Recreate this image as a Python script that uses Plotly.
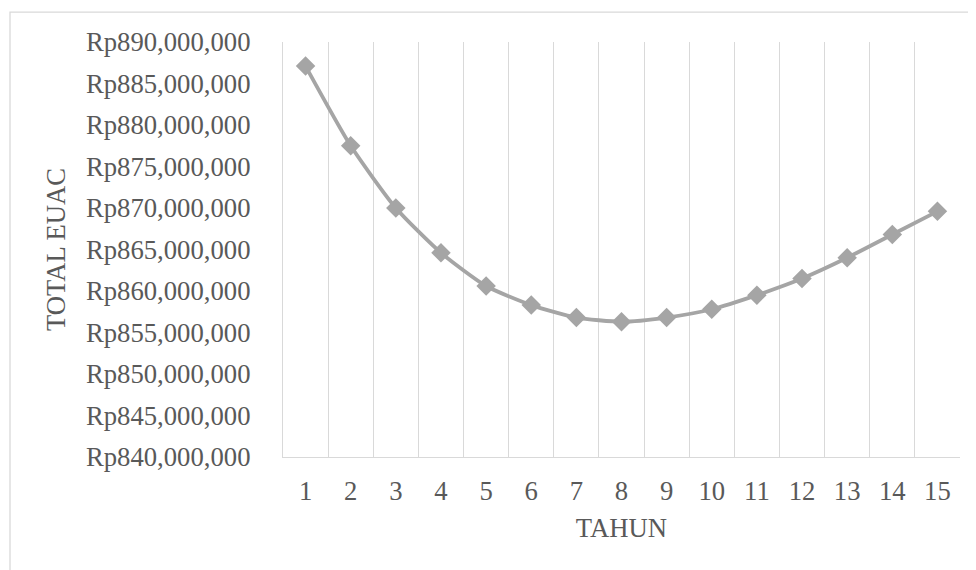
import plotly.graph_objects as go

tahun = [str(i) for i in range(1, 16)]
total_euac = [887100000, 877500000, 870000000, 864600000, 860600000,
              858300000, 856800000, 856300000, 856800000, 857800000,
              859500000, 861500000, 864000000, 866800000, 869600000]
y_ticks = list(range(840000000, 890000001, 5000000))
y_tick_text = ["Rp{:,}".format(v) for v in y_ticks]

FONT = "Liberation Serif, Times New Roman, serif"
TXT = "#595959"
GRID = "#D9D9D9"
FS = 26.7

fig = go.Figure()
fig.add_trace(go.Scatter(
    x=tahun, y=total_euac, mode="lines+markers",
    line=dict(color="#A5A5A5", width=3.8, shape="spline", smoothing=0.6),
    marker=dict(symbol="diamond", size=15, color="#A5A5A5"),
    showlegend=False,
))

# page has an 8px body offset
W, H = 976, 570
L, T = 275, 34
R = W - 952
B = H - 449.5
pw = W - L - R
ph = H - T - B

fig.update_layout(
    width=W, height=H,
    margin=dict(l=L, r=R, t=T, b=B, pad=0),
    paper_bgcolor="white", plot_bgcolor="white",
    font=dict(family=FONT, size=FS, color=TXT),
    xaxis=dict(
        type="category", tickson="boundaries",
        range=[-0.5, 14.5],
        showgrid=True, gridcolor=GRID, gridwidth=1.3,
        showline=True, linecolor=GRID, linewidth=1.3,
        ticks="", ticklabelstandoff=10,
        tickfont=dict(family=FONT, size=FS, color=TXT),
        title=dict(text="TAHUN", font=dict(family=FONT, size=FS, color=TXT), standoff=13),
        zeroline=False,
    ),
    yaxis=dict(
        range=[840000000, 890000000],
        tickvals=y_ticks, ticktext=y_tick_text,
        showgrid=False, showline=True, linecolor=GRID, linewidth=1.3,
        zeroline=False,
        ticks="", ticklabelstandoff=26,
        tickfont=dict(family=FONT, size=FS, color=TXT),
        title=dict(text="TOTAL EUAC", font=dict(family=FONT, size=FS, color=TXT), standoff=12),
    ),
    shapes=[dict(
        type="rect", xref="paper", yref="paper",
        x0=(2 - L) / pw, x1=(W + 20 - L) / pw,
        y0=-(H + 20 - T - ph) / ph, y1=(H - 4 - B) / ph,
        line=dict(color=GRID, width=1.3), fillcolor="rgba(0,0,0,0)", layer="below",
    )],
)

fig.write_html("out.html")
